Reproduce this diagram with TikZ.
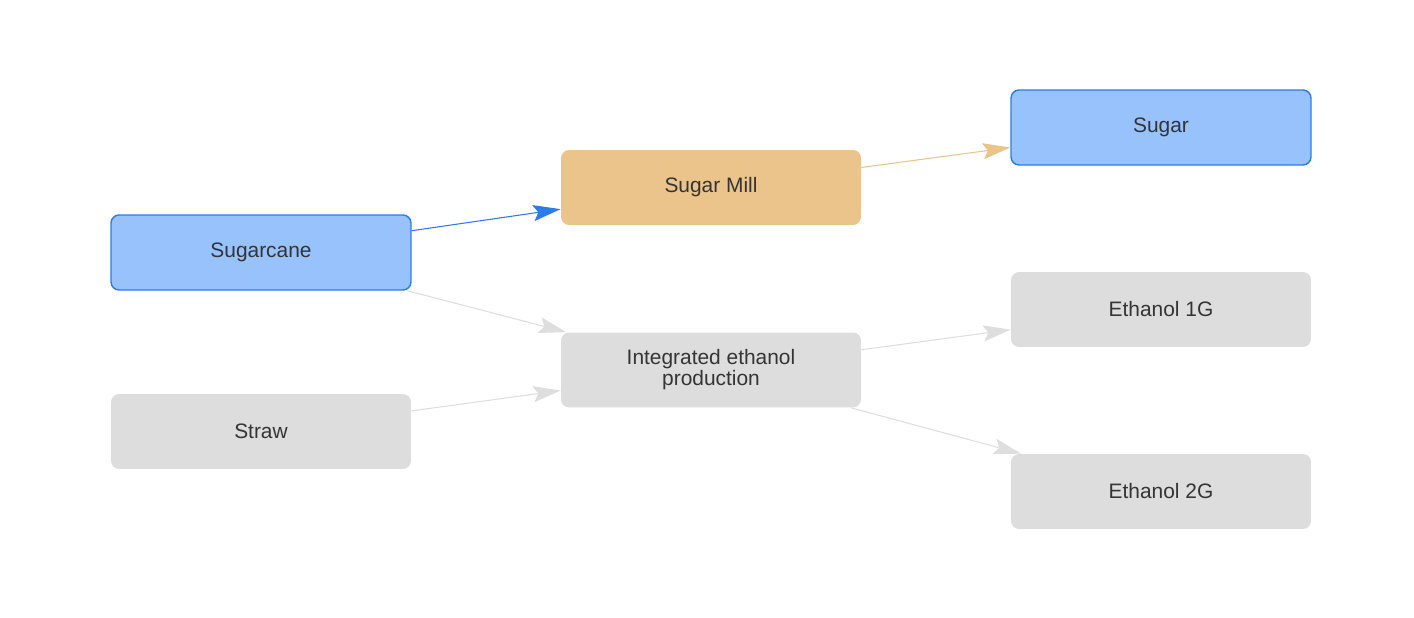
\documentclass[tikz,border=0pt]{standalone}
\usepackage{fontspec}
\setmainfont{Liberation Sans}
\usetikzlibrary{arrows.meta}
\definecolor{CaneBlue}{HTML}{97C2FC}
\definecolor{CaneBorder}{HTML}{2B7CE9}
\definecolor{MillOrange}{HTML}{EBC48C}
\definecolor{PlainGray}{HTML}{DDDDDD}
\definecolor{EdgeGray}{HTML}{DEDEDE}
\definecolor{LabelText}{HTML}{343434}

\tikzset{
  box/.style={rectangle, rounded corners=0.16cm, minimum width=6cm, minimum height=1.5cm,
    align=center, text=LabelText, font=\fontsize{11.9}{12}\selectfont, inner sep=0pt},
  bluebox/.style={box, fill=CaneBlue, draw=CaneBorder, line width=0.8pt},
  millbox/.style={box, fill=MillOrange},
  graybox/.style={box, fill=PlainGray},
  flow/.style={-{Stealth[length=0.55cm, width=0.32cm, inset=0.1cm]}, line width=0.6pt, color=EdgeGray}
}

\begin{document}
\begin{tikzpicture}[x=0.02cm, y=-0.02cm]
    \useasboundingbox (0,0) rectangle (1414,618);
    % Inputs
    \node[bluebox] (cane) at (261,252.5) {Sugarcane};
    \node[graybox] (straw) at (261,431.5) {Straw};
    % Processing
    \node[millbox] (mill) at (711,187.5) {Sugar Mill};
    \node[graybox] (integ) at (711,370) {Integrated ethanol\\production};
    % Products
    \node[bluebox] (sugar) at (1161,127.5) {Sugar};
    \node[graybox] (eth1) at (1161,309.5) {Ethanol 1G};
    \node[graybox] (eth2) at (1161,491.5) {Ethanol 2G};

    % Flows
    \draw[flow, color=CaneBorder] (cane) -- (mill);
    \draw[flow] (cane) -- (integ);
    \draw[flow] (straw) -- (integ);
    \draw[flow, color=MillOrange] (mill) -- (sugar);
    \draw[flow] (integ) -- (eth1);
    \draw[flow] (integ) -- (eth2);
\end{tikzpicture}
\end{document}
